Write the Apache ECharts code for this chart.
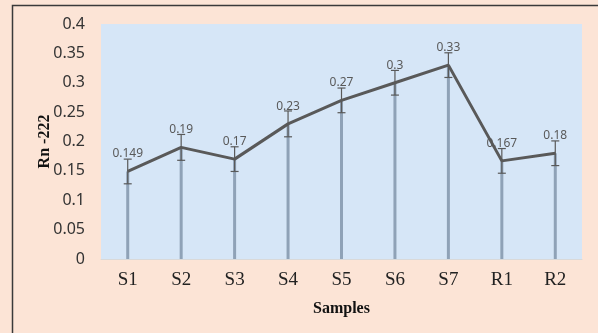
<!DOCTYPE html>
<html><head><meta charset="utf-8">
<script src="https://cdn.jsdelivr.net/npm/echarts@6/dist/echarts.min.js"></script>
<style>html,body{margin:0;padding:0;background:#fff}#c{width:598px;height:333px}</style>
</head><body><div id="c"></div>
<script>
const categories = ['S1','S2','S3','S4','S5','S6','S7','R1','R2'];
const values = [0.149, 0.19, 0.17, 0.23, 0.27, 0.3, 0.33, 0.167, 0.18];
const errors = [0.021, 0.022, 0.021, 0.022, 0.021, 0.021, 0.021, 0.021, 0.021];
const labels = ['0.149','0.19','0.17','0.23','0.27','0.3','0.33','0.167','0.18'];

const chart = echarts.init(document.getElementById('c'), null, {renderer:'canvas'});
const errData = values.map((v,i)=>[i, v - errors[i], v + errors[i]]);
chart.setOption({
  animation:false,
  backgroundColor:'#FCE4D6',
  graphic:[
    {type:'rect', shape:{x:12.5,y:5.5,width:620,height:360}, style:{fill:'none', stroke:'#3a3a3a', lineWidth:1.5}, z:100}
  ],
  grid:{left:101, right:16, top:24, bottom:74, show:true, backgroundColor:'#D6E6F7', borderWidth:0},
  xAxis:{
    type:'category', data:categories, boundaryGap:true,
    axisLine:{show:true, lineStyle:{color:'#D9D9D9', width:1}},
    axisTick:{show:false},
    axisLabel:{fontFamily:'Liberation Serif', fontSize:19, color:'#222', margin:12},
    name:'Samples', nameLocation:'middle', nameGap:42, nameMoveOverlap:false,
    nameTextStyle:{fontFamily:'Liberation Serif', fontWeight:'bold', fontSize:16, color:'#111'}
  },
  yAxis:{
    type:'value', min:0, max:0.4, interval:0.05,
    axisLine:{show:false}, axisTick:{show:false}, splitLine:{show:false},
    axisLabel:{fontFamily:'Noto Sans', fontSize:16, color:'#333', margin:16,
      formatter:v=>String(+v.toFixed(2))},
    name:'Rn -222', nameLocation:'middle', nameGap:48, nameMoveOverlap:false,
    nameTextStyle:{fontFamily:'Liberation Serif', fontWeight:'bold', fontSize:16, color:'#111'}
  },
  series:[
    {type:'bar', data:values, barWidth:3, itemStyle:{color:'#8FA2B7'}, z:1},
    {type:'custom', data:errData, z:3,
      renderItem:(params, api)=>{
        const x = api.coord([api.value(0), 0])[0];
        const lo = api.coord([api.value(0), api.value(1)])[1];
        const hi = api.coord([api.value(0), api.value(2)])[1];
        const w = 4;
        const st = {stroke:'#595959', lineWidth:1.2};
        return {type:'group', children:[
          {type:'line', shape:{x1:x,y1:lo,x2:x,y2:hi}, style:st},
          {type:'line', shape:{x1:x-w,y1:lo,x2:x+w,y2:lo}, style:st},
          {type:'line', shape:{x1:x-w,y1:hi,x2:x+w,y2:hi}, style:st}
        ]};
      }
    },
    {type:'line', data:values, symbol:'circle', symbolSize:1, showSymbol:true, z:4,
      itemStyle:{color:'rgba(0,0,0,0)'},
      lineStyle:{color:'#595959', width:3},
      labelLayout:{hideOverlap:false},
      label:{show:true, position:'top', distance:11, fontFamily:'Noto Sans', fontSize:12, color:'#595959',
        formatter:p=>labels[p.dataIndex]}
    }
  ]
});
</script></body></html>
